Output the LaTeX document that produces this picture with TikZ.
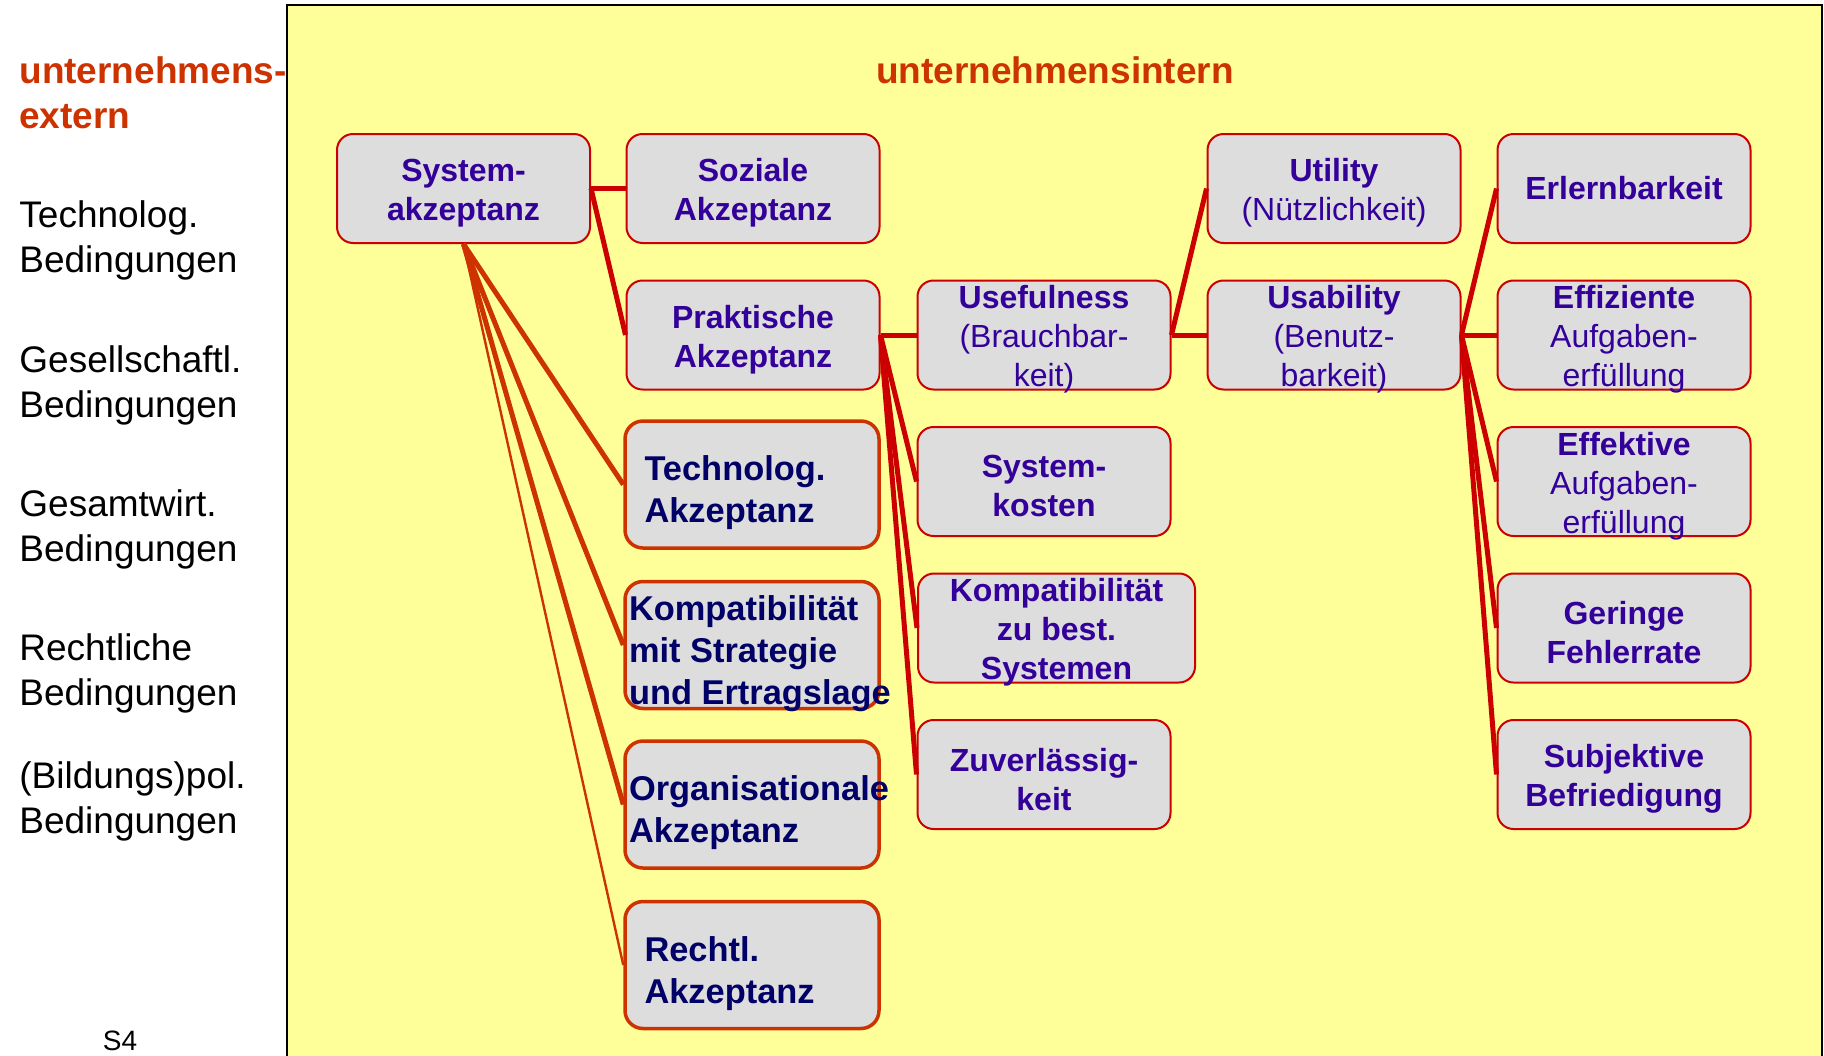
\documentclass[tikz,border=0pt]{standalone}
\usepackage{fontspec}
\setmainfont{Liberation Sans}
\usepackage{tikz}
\usepackage{xcolor}

\definecolor{boxred}{RGB}{204,0,0}
\definecolor{fanred}{RGB}{204,51,0}
\definecolor{boxfill}{RGB}{221,221,221}
\definecolor{paper}{RGB}{255,255,153}
\definecolor{boxtext}{RGB}{51,0,153}
\definecolor{navytext}{RGB}{0,0,102}

% text of a box, centred on the box, may run over its edge
\newcommand{\boxlines}[1]{\raisebox{-6.6pt}[0pt][0pt]{\parbox[c][0pt][c]{120pt}{\centering #1}}}
\newcommand{\grouplines}[2]{\raisebox{-8.5pt}[0pt][0pt]{\parbox[c][0pt][c]{#1}{\raggedright #2}}}

\tikzset{
  akzbox/.style={draw=boxred, line width=1pt, fill=boxfill, rounded corners=8pt,
    minimum width=126.5pt, minimum height=54.5pt, inner sep=0pt,
    text=boxtext, font=\fontsize{16}{19.5}\selectfont},
  groupbox/.style={draw=fanred, line width=1.75pt, fill=boxfill, rounded corners=9pt,
    minimum width=127pt, minimum height=63.5pt, inner sep=0pt,
    text=navytext, font=\bfseries\fontsize{17.2}{21}\selectfont},
  redline/.style={draw=boxred, line width=2.5pt},
  fanline/.style={draw=fanred, line width=2.5pt},
  outside/.style={anchor=west, align=left, inner sep=0pt, font=\fontsize{18.5}{22.5}\selectfont}
}

\begin{document}
\begin{tikzpicture}[x=0.5pt,y=-0.5pt]
        \useasboundingbox (0,0) rectangle (1824,1055);
        \draw[fill=paper, line width=1pt] (287,5) rectangle (1822,1080);

        % outside the company
        \node[outside, text=fanred, font=\bfseries\fontsize{18.5}{22.5}\selectfont] (extern) at (19,92.5) {unternehmens-\\extern};
        \node[outside] (techbed) at (19,240.5) {Technolog.\\Bedingungen};
        \node[outside] (gesbed) at (19,385) {Gesellschaftl.\\Bedingungen};
        \node[outside] (wirtbed) at (19,529.5) {Gesamtwirt.\\Bedingungen};
        \node[outside] (rechtbed) at (19,673.5) {Rechtliche\\Bedingungen};
        \node[outside] (polbed) at (19,801.5) {(Bildungs)pol.\\Bedingungen};
        \node[inner sep=0pt, font=\fontsize{14}{16}\selectfont] (folie) at (120,1041) {S4};

        \node[text=fanred, font=\bfseries\fontsize{18.5}{22.5}\selectfont] (intern) at (1055,70) {unternehmensintern};

        % first and second level
        \node[akzbox] (sysakz) at (463.5,188.5) {\boxlines{\bfseries System-\\akzeptanz}};
        \node[akzbox] (sozakz) at (753,188.5) {\boxlines{\bfseries Soziale\\Akzeptanz}};
        \node[akzbox] (praktakz) at (753,335) {\boxlines{\bfseries Praktische\\Akzeptanz}};
        \node[groupbox] (techakz) at (752,484.5) {\grouplines{107.5pt}{Technolog.\\Akzeptanz}};
        \node[groupbox] (stratakz) at (752,645) {\grouplines{123pt}{Kompatibilität\\mit Strategie\\\mbox{und Ertragslage}}};
        \node[groupbox] (orgakz) at (752,804.5) {\grouplines{123pt}{Organisationale\\Akzeptanz}};
        \node[groupbox] (rechtakz) at (752,965) {\grouplines{107.5pt}{Rechtl.\\Akzeptanz}};

        % practical acceptance
        \node[akzbox] (useful) at (1044,335) {\boxlines{\textbf{Usefulness}\\(Brauchbar-\\keit)}};
        \node[akzbox] (syskost) at (1044,481.5) {\boxlines{\bfseries System-\\kosten}};
        \node[akzbox, minimum width=138.5pt] (kompsys) at (1056.5,628) {\boxlines{\bfseries Kompatibilität\\zu best.\\Systemen}};
        \node[akzbox] (zuverl) at (1044,774.5) {\boxlines{\bfseries Zuverlässig-\\keit}};

        % usefulness
        \node[akzbox] (utility) at (1334,188.5) {\boxlines{\textbf{Utility}\\(Nützlichkeit)}};
        \node[akzbox] (usability) at (1334,335) {\boxlines{\textbf{Usability}\\(Benutz-\\barkeit)}};

        % usability
        \node[akzbox, font=\bfseries\fontsize{16}{19.5}\selectfont] (erlern) at (1624,188.5) {Erlernbarkeit};
        \node[akzbox] (effiz) at (1624,335) {\boxlines{\textbf{Effiziente}\\Aufgaben-\\erfüllung}};
        \node[akzbox] (effekt) at (1624,481.5) {\boxlines{\textbf{Effektive}\\Aufgaben-\\erfüllung}};
        \node[akzbox] (fehler) at (1624,628) {\boxlines{\bfseries Geringe\\Fehlerrate}};
        \node[akzbox] (befried) at (1624,774.5) {\boxlines{\bfseries Subjektive\\Befriedigung}};

        % connectors
        \draw[redline] (sysakz.east) -- (sozakz.west);
        \draw[redline] (sysakz.east) -- (praktakz.west);
        \draw[fanline] (sysakz.south) -- (techakz.west);
        \draw[fanline] (sysakz.south) -- (stratakz.west);
        \draw[fanline] (sysakz.south) -- (orgakz.west);
        \draw[fanline, line width=1.2pt] (sysakz.south) -- (rechtakz.west);

        \draw[redline] (praktakz.east) -- (useful.west);
        \draw[redline] (praktakz.east) -- (syskost.west);
        \draw[redline] (praktakz.east) -- (kompsys.west);
        \draw[redline] (praktakz.east) -- (zuverl.west);

        \draw[redline] (useful.east) -- (utility.west);
        \draw[redline] (useful.east) -- (usability.west);

        \draw[redline] (usability.east) -- (erlern.west);
        \draw[redline] (usability.east) -- (effiz.west);
        \draw[redline] (usability.east) -- (effekt.west);
        \draw[redline] (usability.east) -- (fehler.west);
        \draw[redline] (usability.east) -- (befried.west);
    \end{tikzpicture}
\end{document}
